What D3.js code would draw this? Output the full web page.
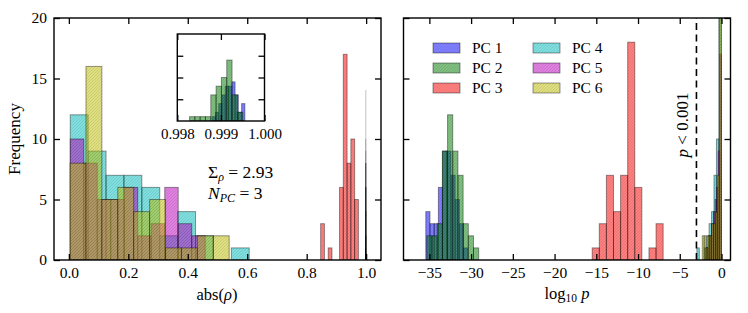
<!DOCTYPE html>
<html>
<head>
<meta charset="utf-8">
<script src="https://cdn.jsdelivr.net/npm/d3@7"></script>
<style>
body { margin: 0; background: #fff; }
text { font-family: "Liberation Serif", "DejaVu Serif", serif; fill: #000; }
</style>
</head>
<body>
<svg id="chart" width="748" height="313"></svg>
<script>
var names = ["PC 1", "PC 2", "PC 3", "PC 4", "PC 5", "PC 6"];
var colors = ["#0000ff", "#008000", "#ff0000", "#00bfbf", "#bf00bf", "#bfbf00"];

// abs(rho): range of each PC histogram (10 bins) and its counts
var rhoLo = [0.99880, 0.99828, 0.847, 0.0047, 0.0047, 0.0040];
var rhoHi = [0.99955, 0.99950, 0.974, 0.6067, 0.4587, 0.5393];
var rhoPC1 = [1, 2, 4, 6, 8, 8, 9, 6, 2, 4];
var rhoPC2 = [1, 1, 1, 1, 6, 8, 10, 14, 6, 2];
var rhoPC3 = [3, 0, 1, 0, 0, 6, 17, 8, 10, 5];
var rhoPC4 = [12, 9, 7, 7, 6, 2, 4, 2, 0, 1];
var rhoPC5 = [10, 8, 5, 5, 6, 2, 3, 6, 3, 2];
var rhoPC6 = [8, 16, 5, 6, 4, 5, 1, 1, 2, 2];

// log10 p: same thing
var pLo = [-35.43, -35.31, -15.49, -2.95, -1.90, -2.30];
var pHi = [-30.40, -29.09, -6.99, -0.02, -0.02, -0.03];
var pPC1 = [4, 3, 3, 6, 9, 9, 7, 5, 3, 1];
var pPC2 = [2, 2, 3, 9, 12, 9, 7, 3, 2, 1];
var pPC3 = [1, 3, 7, 4, 7, 18, 6, 0, 1, 3];
var pPC4 = [1, 0, 0, 1, 2, 3, 4, 7, 10, 22];
var pPC5 = [1, 1, 2, 2, 3, 4, 5, 6, 9, 17];
var pPC6 = [2, 2, 1, 2, 2, 3, 3, 4, 7, 24];

var yTicks = [0, 5, 10, 15, 20];
var insetYTicks = [5, 10, 15];
var rhoTicks = [0.0, 0.2, 0.4, 0.6, 0.8, 1.0];
var insetTicks = [0.998, 0.999, 1.000];
var pTicks = [-35, -30, -25, -20, -15, -10, -5, 0];
var pCut = -3;
var sumRho = 2.93;
var nPC = 3;

var rhoCounts = [rhoPC1, rhoPC2, rhoPC3, rhoPC4, rhoPC5, rhoPC6];
var pCounts = [pPC1, pPC2, pPC3, pPC4, pPC5, pPC6];

var svg = d3.select('#chart');
var defs = svg.append('defs');

defs.append('pattern').attr('id', 'hatch')
	.attr('patternUnits', 'userSpaceOnUse').attr('width', 3).attr('height', 3)
	.append('path').attr('d', 'M0,3 L3,0 M-1,1 L1,-1 M2,4 L4,2')
	.attr('stroke', '#000').attr('stroke-opacity', 0.13).attr('stroke-width', 0.7);

function clip(id, x0, y0, w, h) {
	defs.append('clipPath').attr('id', id)
		.append('rect').attr('x', x0).attr('y', y0).attr('width', w).attr('height', h);
}

function bins(lo, hi, counts) {
	var w = (hi - lo) / counts.length;
	return counts.map(function(c, i) {
		return { x0: lo + i * w, x1: lo + (i + 1) * w, c: c };
	}).filter(function(d) { return d.c > 0; });
}

function drawHist(g, x, y, lo, hi, counts, color) {
	var data = bins(lo, hi, counts);
	var sel = g.append('g').selectAll('g').data(data).enter().append('g');
	sel.append('rect')
		.attr('x', function(d) { return x(d.x0); })
		.attr('y', function(d) { return y(d.c); })
		.attr('width', function(d) { return Math.max(x(d.x1) - x(d.x0), 0.05); })
		.attr('height', function(d) { return y(0) - y(d.c); })
		.attr('fill', color).attr('fill-opacity', 0.5);
	sel.append('rect')
		.attr('x', function(d) { return x(d.x0); })
		.attr('y', function(d) { return y(d.c); })
		.attr('width', function(d) { return Math.max(x(d.x1) - x(d.x0), 0.05); })
		.attr('height', function(d) { return y(0) - y(d.c); })
		.attr('fill', 'url(#hatch)')
		.attr('stroke', '#000').attr('stroke-opacity', 0.4)
		.attr('stroke-width', function(d) { return x(d.x1) - x(d.x0) < 1 ? 0.5 : 1; });
}

function frame(g, x0, y0, w, h) {
	g.append('rect').attr('x', x0).attr('y', y0).attr('width', w).attr('height', h)
		.attr('fill', 'none').attr('stroke', '#000').attr('stroke-width', 1.4);
}

function ticks(g, x, y, xt, yt, fmtX, fmtY, pad) {
	var x0 = x.range()[0], x1 = x.range()[1], y0 = y.range()[0], y1 = y.range()[1];
	g.append('g').attr('transform', 'translate(0,' + y0 + ')')
		.call(d3.axisBottom(x).tickValues(xt).tickSize(-6).tickPadding(pad).tickFormat(fmtX));
	g.append('g').attr('transform', 'translate(0,' + y1 + ')')
		.call(d3.axisTop(x).tickValues(xt).tickSize(-6).tickFormat(''));
	g.append('g').attr('transform', 'translate(' + x0 + ',0)')
		.call(d3.axisLeft(y).tickValues(yt).tickSize(-6).tickPadding(pad).tickFormat(fmtY));
	g.append('g').attr('transform', 'translate(' + x1 + ',0)')
		.call(d3.axisRight(y).tickValues(yt).tickSize(-6).tickFormat(''));
	g.selectAll('.domain').remove();
	g.selectAll('.tick line').attr('stroke', '#000').attr('stroke-width', 1.3);
	g.selectAll('.tick text').attr('font-size', 15.5).attr('font-family', '"Liberation Serif", serif');
}

// ---- left panel: abs(rho)
var xL = d3.scaleLinear().domain([-0.05, 1.05]).range([54, 381]);
var yL = d3.scaleLinear().domain([0, 20]).range([260, 18]);
clip('clipL', 54, 18, 327, 242);

var left = svg.append('g');
var histL = left.append('g').attr('clip-path', 'url(#clipL)');
rhoCounts.forEach(function(c, i) {
	drawHist(histL, xL, yL, rhoLo[i], rhoHi[i], c, colors[i]);
});
ticks(left, xL, yL, rhoTicks, yTicks, d3.format('.1f'), d3.format('d'), 7);
frame(left, 54, 18, 327, 242);

left.append('text').attr('transform', 'translate(20,139) rotate(-90)')
	.attr('text-anchor', 'middle').attr('font-size', 17).text('Frequency');
var labL = left.append('text').attr('x', 217).attr('y', 300)
	.attr('text-anchor', 'middle').attr('font-size', 16.5);
labL.append('tspan').text('abs(');
labL.append('tspan').attr('font-style', 'italic').text('ρ');
labL.append('tspan').text(')');

var t1 = left.append('text').attr('x', 208).attr('y', 178).attr('font-size', 17.5);
t1.append('tspan').text('Σ');
t1.append('tspan').attr('font-style', 'italic').attr('font-size', 12).attr('dy', 3).text('ρ');
t1.append('tspan').attr('dy', -3).text(' = ' + sumRho.toFixed(2));
var t2 = left.append('text').attr('x', 208).attr('y', 199).attr('font-size', 17.5);
t2.append('tspan').attr('font-style', 'italic').text('N');
t2.append('tspan').attr('font-style', 'italic').attr('font-size', 12).attr('dy', 3).text('PC');
t2.append('tspan').attr('dy', -3).text(' = ' + nPC);

// ---- inset near abs(rho) = 1
var xI = d3.scaleLinear().domain([0.998, 1.000]).range([177.3, 264.5]);
var yI = d3.scaleLinear().domain([0, 20]).range([121, 34]);
clip('clipI', 177.3, 34, 87.2, 87);
var inset = svg.append('g');
inset.append('rect').attr('x', 177.3).attr('y', 34).attr('width', 87.2).attr('height', 87).attr('fill', '#fff');
var histI = inset.append('g').attr('clip-path', 'url(#clipI)');
rhoCounts.forEach(function(c, i) {
	drawHist(histI, xI, yI, rhoLo[i], rhoHi[i], c, colors[i]);
});
ticks(inset, xI, yI, insetTicks, insetYTicks, d3.format('.3f'), function() { return ''; }, 7);
inset.selectAll('.tick text').attr('font-size', 15);
frame(inset, 177.3, 34, 87.2, 87);

// ---- right panel: log10 p
var xR = d3.scaleLinear().domain([-38.1, 1.08]).range([403.5, 730.5]);
var yR = d3.scaleLinear().domain([0, 20]).range([260, 18]);
clip('clipR', 403.5, 18, 327, 242);

var right = svg.append('g');
var histR = right.append('g').attr('clip-path', 'url(#clipR)');
pCounts.forEach(function(c, i) {
	drawHist(histR, xR, yR, pLo[i], pHi[i], c, colors[i]);
});
right.append('line')
	.attr('x1', xR(pCut)).attr('x2', xR(pCut)).attr('y1', yR(0)).attr('y2', yR(20))
	.attr('stroke', '#000').attr('stroke-width', 1.6).attr('stroke-dasharray', '7,4.5');
ticks(right, xR, yR, pTicks, yTicks, d3.format('d'), function() { return ''; }, 7);
frame(right, 403.5, 18, 327, 242);

var cut = right.append('text').attr('transform', 'translate(688,125) rotate(-90)')
	.attr('text-anchor', 'middle').attr('font-size', 17);
cut.append('tspan').attr('font-style', 'italic').text('p');
cut.append('tspan').text(' < 0.001');

var labR = right.append('text').attr('x', 567).attr('y', 299)
	.attr('text-anchor', 'middle').attr('font-size', 16.5);
labR.append('tspan').text('log');
labR.append('tspan').attr('font-size', 11.5).attr('dy', 3).text('10');
labR.append('tspan').attr('dy', -3).attr('font-style', 'italic').text(' p');

// legend, two columns of three
var legend = right.append('g').selectAll('g').data(names).enter().append('g')
	.attr('transform', function(d, i) {
		return 'translate(' + (433 + Math.floor(i / 3) * 100) + ',' + (43 + (i % 3) * 20) + ')';
	});
legend.append('rect').attr('width', 27).attr('height', 10)
	.attr('fill', function(d, i) { return colors[i]; }).attr('fill-opacity', 0.5);
legend.append('rect').attr('width', 27).attr('height', 10)
	.attr('fill', 'url(#hatch)').attr('stroke', '#000').attr('stroke-opacity', 0.4);
legend.append('text').attr('x', 39).attr('y', 10).attr('font-size', 15.5)
	.text(function(d) { return d; });
</script>
</body>
</html>
